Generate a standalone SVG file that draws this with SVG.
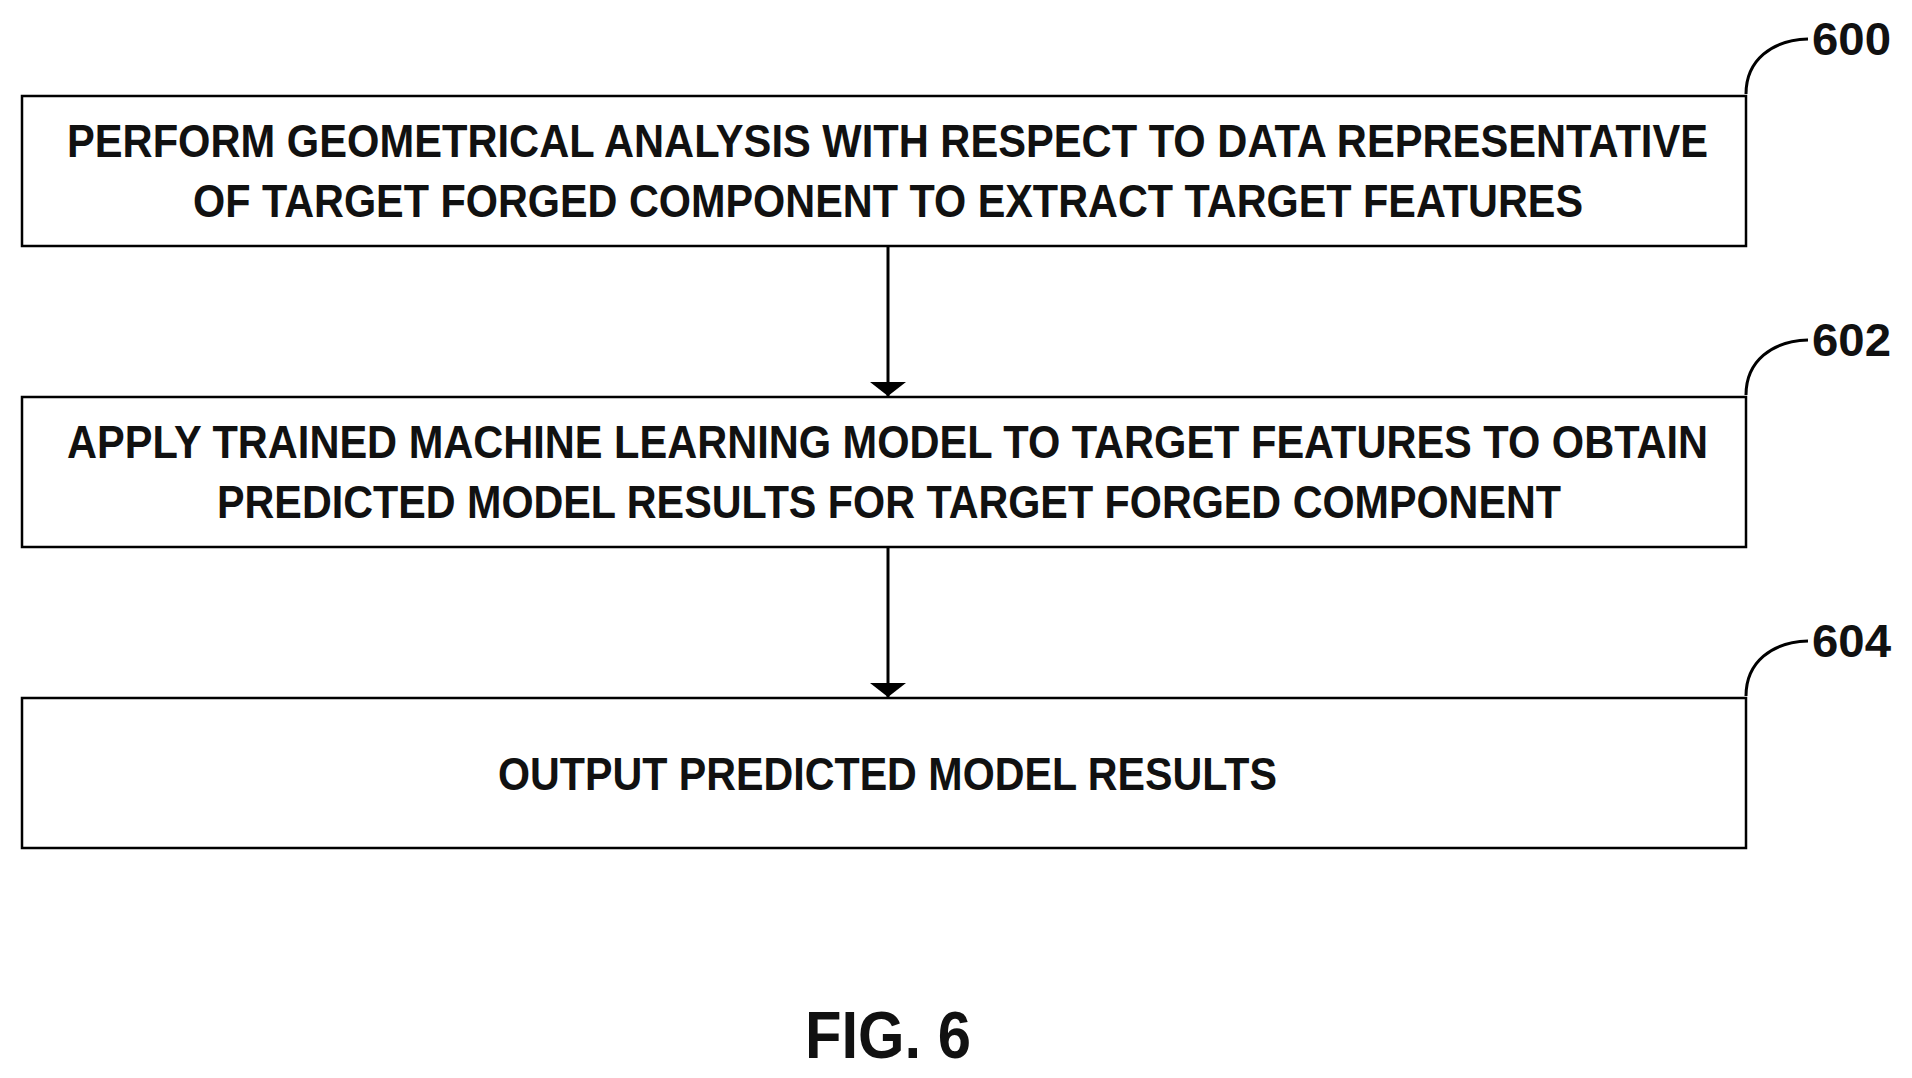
<svg xmlns="http://www.w3.org/2000/svg" width="1912" height="1078" viewBox="0 0 1912 1078">
<style>
.b{fill:none;stroke:#000;stroke-width:2.5}
.t{font-family:"Liberation Sans",Arial,sans-serif;font-weight:bold;font-size:46px;fill:#111}
.l{font-family:"Liberation Sans",Arial,sans-serif;font-weight:bold;font-size:46px;fill:#111}
.c{fill:none;stroke:#000;stroke-width:3}
</style>
<defs><marker id="a" markerWidth="14" markerHeight="36" refX="14" refY="18" orient="auto" markerUnits="userSpaceOnUse"><path d="M0,0L36,18L0,36z" transform="scale(0.39,1)"/></marker></defs>
<rect width="1912" height="1078" fill="#fff"/>
<g id="n600"><rect class="b" x="22" y="96" width="1724" height="150"/>
<text class="t" x="67" y="157" textLength="1641" lengthAdjust="spacingAndGlyphs">PERFORM GEOMETRICAL ANALYSIS WITH RESPECT TO DATA REPRESENTATIVE</text>
<text class="t" x="193" y="217" textLength="1390" lengthAdjust="spacingAndGlyphs">OF TARGET FORGED COMPONENT TO EXTRACT TARGET FEATURES</text>
<path class="c" d="M1746,94C1746,60 1772,40 1808,39"/><text class="l" x="1812" y="55" textLength="79" lengthAdjust="spacingAndGlyphs">600</text></g>
<g id="n602"><rect class="b" x="22" y="397" width="1724" height="150"/>
<text class="t" x="67" y="458" textLength="1641" lengthAdjust="spacingAndGlyphs">APPLY TRAINED MACHINE LEARNING MODEL TO TARGET FEATURES TO OBTAIN</text>
<text class="t" x="217" y="518" textLength="1344" lengthAdjust="spacingAndGlyphs">PREDICTED MODEL RESULTS FOR TARGET FORGED COMPONENT</text>
<path class="c" d="M1746,395C1746,361 1772,341 1808,340"/><text class="l" x="1812" y="356" textLength="79" lengthAdjust="spacingAndGlyphs">602</text></g>
<g id="n604"><rect class="b" x="22" y="698" width="1724" height="150"/>
<text class="t" x="498" y="790" textLength="779" lengthAdjust="spacingAndGlyphs">OUTPUT PREDICTED MODEL RESULTS</text>
<path class="c" d="M1746,696C1746,662 1772,642 1808,641"/><text class="l" x="1812" y="657" textLength="79" lengthAdjust="spacingAndGlyphs">604</text></g>
<g id="connectors"><line class="c" x1="888" y1="247" x2="888" y2="396" marker-end="url(#a)"/><line class="c" x1="888" y1="548" x2="888" y2="697" marker-end="url(#a)"/></g>
<text x="805" y="1058" font-family="Liberation Sans,Arial,sans-serif" font-weight="bold" font-size="66" textLength="166" lengthAdjust="spacingAndGlyphs" fill="#111">FIG. 6</text>
</svg>
